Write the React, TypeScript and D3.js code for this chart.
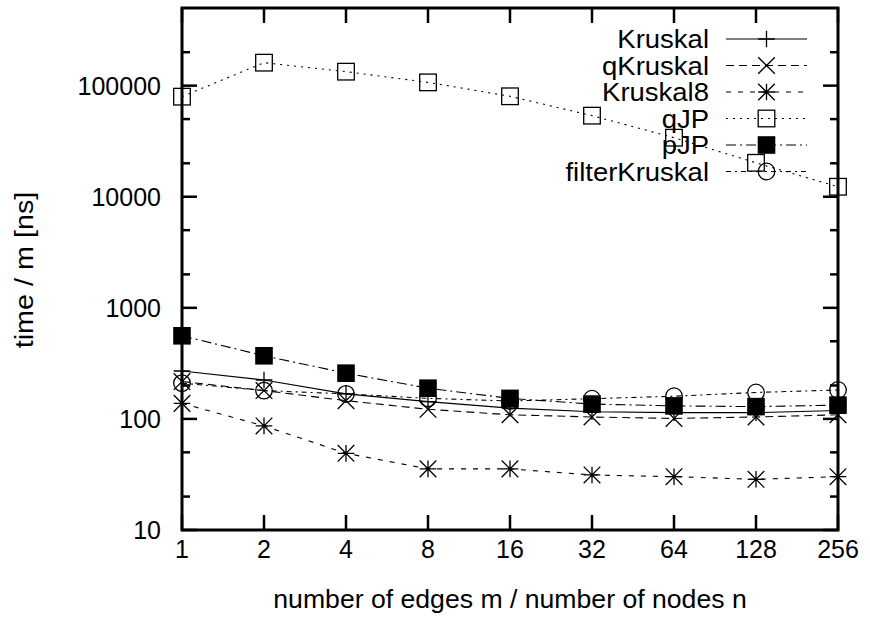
import React from "react";
import * as d3 from "d3";

const xValues = [1, 2, 4, 8, 16, 32, 64, 128, 256];
const kruskal = [270, 224, 168, 143, 125, 116, 114, 114, 119];
const qKruskal = [217, 180, 146, 122, 109, 104, 101, 104, 109];
const kruskal8 = [138, 86.5, 49, 35.5, 35.5, 31.3, 30.2, 28.6, 30.2];
const qJP = [79600, 161000, 133600, 107000, 80200, 53700, 34000, 20200, 12300];
const pJP = [560, 370, 258, 189, 153, 136, 131, 129, 133];
const filterKruskal = [210, 180, 168, 153, 145, 152, 160, 173, 182];
const yMajorTicks = [10, 100, 1000, 10000, 100000];
const yMinorTicks = [20, 50, 200, 500, 2000, 5000, 20000, 50000, 200000];

type Marker = "plus" | "cross" | "star" | "square" | "filledSquare" | "circle";
const series: { name: string; values: number[]; dash: string; marker: Marker }[] = [
  { name: "Kruskal", values: kruskal, dash: "none", marker: "plus" },
  { name: "qKruskal", values: qKruskal, dash: "8,5", marker: "cross" },
  { name: "Kruskal8", values: kruskal8, dash: "5,7", marker: "star" },
  { name: "qJP", values: qJP, dash: "2,5", marker: "square" },
  { name: "pJP", values: pJP, dash: "10,4,2,4", marker: "filledSquare" },
  { name: "filterKruskal", values: filterKruskal, dash: "5,4,2,4", marker: "circle" },
];

const W = 870;
const H = 617;
const L = 182, R = 838, T = 8, B = 530;
const FONT = "'Liberation Sans', Arial, Helvetica, sans-serif";
const FS = 25;

function MarkerShape({ type, x, y }: { type: Marker; x: number; y: number }) {
  const s = 8.3;
  const sw = 1.3;
  switch (type) {
    case "plus":
      return <path d={`M${x - s},${y}H${x + s}M${x},${y - s}V${y + s}`} stroke="#000" strokeWidth={sw} fill="none" />;
    case "cross":
      return <path d={`M${x - s},${y - s}L${x + s},${y + s}M${x - s},${y + s}L${x + s},${y - s}`} stroke="#000" strokeWidth={sw} fill="none" />;
    case "star":
      return <path d={`M${x - s},${y}H${x + s}M${x},${y - s}V${y + s}M${x - s},${y - s}L${x + s},${y + s}M${x - s},${y + s}L${x + s},${y - s}`} stroke="#000" strokeWidth={sw} fill="none" />;
    case "square":
      return <rect x={x - s} y={y - s} width={2 * s} height={2 * s} stroke="#000" strokeWidth={sw} fill="none" />;
    case "filledSquare":
      return <rect x={x - s - 0.5} y={y - s - 0.5} width={2 * s + 1} height={2 * s + 1} fill="#000" />;
    case "circle":
      return <circle cx={x} cy={y} r={s} stroke="#000" strokeWidth={sw} fill="none" />;
  }
}

export default function App() {
  const x = d3.scaleLog().base(2).domain([1, 256]).range([L, R]);
  const y = d3.scaleLog().domain([10, 500000]).range([B, T]);
  const line = d3
    .line<number>()
    .x((_, i) => x(xValues[i]))
    .y((d) => y(d));

  const legendTextX = 709;
  const legendLineX0 = 726;
  const legendLineX1 = 807;
  const legendRows = series.map((_, i) => 39 + i * 26.5);

  return (
    <svg width={W} height={H} style={{ position: "absolute", left: 0, top: 0, background: "#fff" }} fontFamily={FONT}>
      <rect x={0} y={0} width={W} height={H} fill="#fff" />
      {/* ticks */}
      <g stroke="#000" strokeWidth={2.5}>
        {yMajorTicks.map((t) => (
          <g key={"ym" + t}>
            <line x1={L} x2={L + 15} y1={y(t)} y2={y(t)} />
            <line x1={R} x2={R - 15} y1={y(t)} y2={y(t)} />
          </g>
        ))}
        {yMinorTicks.map((t) => (
          <g key={"yn" + t}>
            <line x1={L} x2={L + 8} y1={y(t)} y2={y(t)} />
            <line x1={R} x2={R - 8} y1={y(t)} y2={y(t)} />
          </g>
        ))}
        {xValues.map((t) => (
          <g key={"x" + t}>
            <line x1={x(t)} x2={x(t)} y1={B} y2={B - 15} />
            <line x1={x(t)} x2={x(t)} y1={T} y2={T + 15} />
          </g>
        ))}
      </g>
      {/* tick labels */}
      <g fontSize={FS} fill="#000">
        {yMajorTicks.map((t) => (
          <text key={"yl" + t} x={161} y={y(t) + 9} textAnchor="end">
            {String(t)}
          </text>
        ))}
        {xValues.map((t) => (
          <text key={"xl" + t} x={x(t)} y={558} textAnchor="middle">
            {String(t)}
          </text>
        ))}
        <text transform={`translate(${(L + R) / 2},608) scale(1.065,1)`} textAnchor="middle">
          number of edges m / number of nodes n
        </text>
        <text transform={`translate(33,${(T + B) / 2 + 1}) rotate(-90) scale(1.15,1)`} textAnchor="middle">
          time / m [ns]
        </text>
      </g>
      {/* series */}
      {series.map((s, si) => (
        <g key={s.name}>
          <path d={line(s.values) || ""} fill="none" stroke="#000" strokeWidth={1.1} strokeDasharray={s.dash} />
          {s.values.map((v, i) => (
            <MarkerShape key={i} type={s.marker} x={x(xValues[i])} y={y(v)} />
          ))}
          <text transform={`translate(${legendTextX},${legendRows[si] + 9}) scale(1.1,1)`} fontSize={FS} textAnchor="end" fill="#000">
            {s.name}
          </text>
          <line x1={legendLineX0} x2={legendLineX1} y1={legendRows[si]} y2={legendRows[si]} stroke="#000" strokeWidth={1.1} strokeDasharray={s.dash} />
          <MarkerShape type={s.marker} x={(legendLineX0 + legendLineX1) / 2} y={legendRows[si]} />
        </g>
      ))}
      {/* frame */}
      <rect x={L} y={T} width={R - L} height={B - T} fill="none" stroke="#000" strokeWidth={3} />
    </svg>
  );
}
